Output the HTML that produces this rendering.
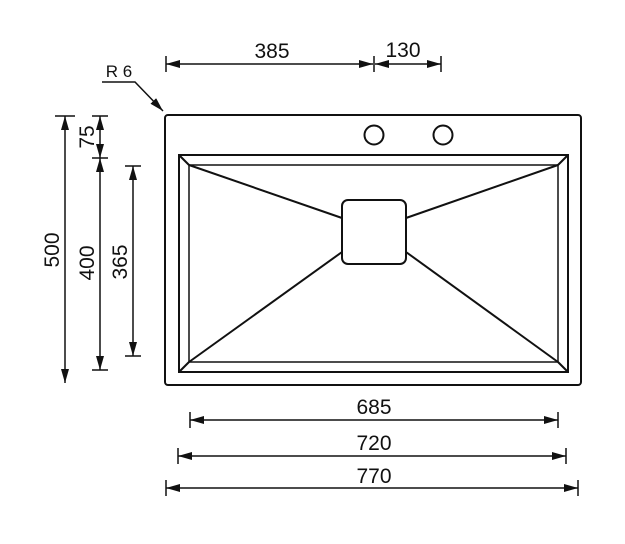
<!DOCTYPE html>
<html><head><style>body{margin:0;background:#fff}svg{display:block}</style></head><body>
<svg width="625" height="544" viewBox="0 0 625 544" xmlns="http://www.w3.org/2000/svg">
<defs>
<marker id="a" markerWidth="14" markerHeight="8" refX="14" refY="4" orient="auto-start-reverse" markerUnits="userSpaceOnUse"><path d="M0,0 L14,4 L0,8 Z" fill="#111"/></marker>
</defs>
<g fill="none" stroke="#111" stroke-width="2">
<rect x="165" y="115" width="416" height="270" rx="3"/>
<rect x="179" y="155" width="389" height="217"/>
<rect x="189" y="165" width="369" height="197" stroke-width="1.5"/>
<line x1="179" y1="155" x2="189" y2="165"/>
<line x1="568" y1="155" x2="558" y2="165"/>
<line x1="179" y1="372" x2="189" y2="362"/>
<line x1="568" y1="372" x2="558" y2="362"/>
<line x1="189" y1="165" x2="342" y2="218"/>
<line x1="558" y1="165" x2="406" y2="218"/>
<line x1="189" y1="362" x2="342" y2="252"/>
<line x1="558" y1="362" x2="406" y2="252"/>
<rect x="342" y="200" width="64" height="64" rx="6" fill="#fff"/>
<circle cx="374" cy="135" r="9.5"/>
<circle cx="443" cy="135" r="9.5"/>
</g>
<g stroke="#111" stroke-width="1.5" fill="none">
<line x1="166" y1="56" x2="166" y2="72"/><line x1="374" y1="56" x2="374" y2="72"/><line x1="441" y1="56" x2="441" y2="72"/>
<line x1="166" y1="64" x2="373" y2="64" marker-start="url(#a)" marker-end="url(#a)"/>
<line x1="375" y1="64" x2="441" y2="64" marker-start="url(#a)" marker-end="url(#a)"/>
<line x1="190" y1="412" x2="190" y2="428"/><line x1="558" y1="412" x2="558" y2="428"/>
<line x1="190" y1="420" x2="558" y2="420" marker-start="url(#a)" marker-end="url(#a)"/>
<line x1="178" y1="448" x2="178" y2="464"/><line x1="566" y1="448" x2="566" y2="464"/>
<line x1="178" y1="456" x2="566" y2="456" marker-start="url(#a)" marker-end="url(#a)"/>
<line x1="166" y1="480" x2="166" y2="496"/><line x1="578" y1="480" x2="578" y2="496"/>
<line x1="166" y1="488" x2="578" y2="488" marker-start="url(#a)" marker-end="url(#a)"/>
<line x1="55" y1="116" x2="75" y2="116"/><line x1="65" y1="116" x2="65" y2="383" marker-start="url(#a)" marker-end="url(#a)"/>
<line x1="92" y1="116" x2="108" y2="116"/><line x1="92" y1="158" x2="108" y2="158"/><line x1="92" y1="370" x2="108" y2="370"/>
<line x1="100" y1="116" x2="100" y2="158" marker-start="url(#a)" marker-end="url(#a)"/>
<line x1="100" y1="158" x2="100" y2="370" marker-start="url(#a)" marker-end="url(#a)"/>
<line x1="125" y1="166" x2="141" y2="166"/><line x1="125" y1="356" x2="141" y2="356"/>
<line x1="133" y1="166" x2="133" y2="356" marker-start="url(#a)" marker-end="url(#a)"/>
<polyline points="102,82 135,82 163,111" marker-end="url(#a)"/>
</g>
<g font-family="Liberation Sans, sans-serif" font-size="21" fill="#111" text-anchor="middle">
<text x="272" y="58">385</text>
<text x="403" y="57">130</text>
<text x="374" y="414">685</text>
<text x="374" y="450">720</text>
<text x="374" y="483">770</text>
<text x="119" y="77" font-size="17">R 6</text>
<text transform="translate(59,250) rotate(-90)">500</text>
<text transform="translate(94,137) rotate(-90)">75</text>
<text transform="translate(94,263) rotate(-90)">400</text>
<text transform="translate(127,262) rotate(-90)">365</text>
</g>
</svg>
</body></html>
